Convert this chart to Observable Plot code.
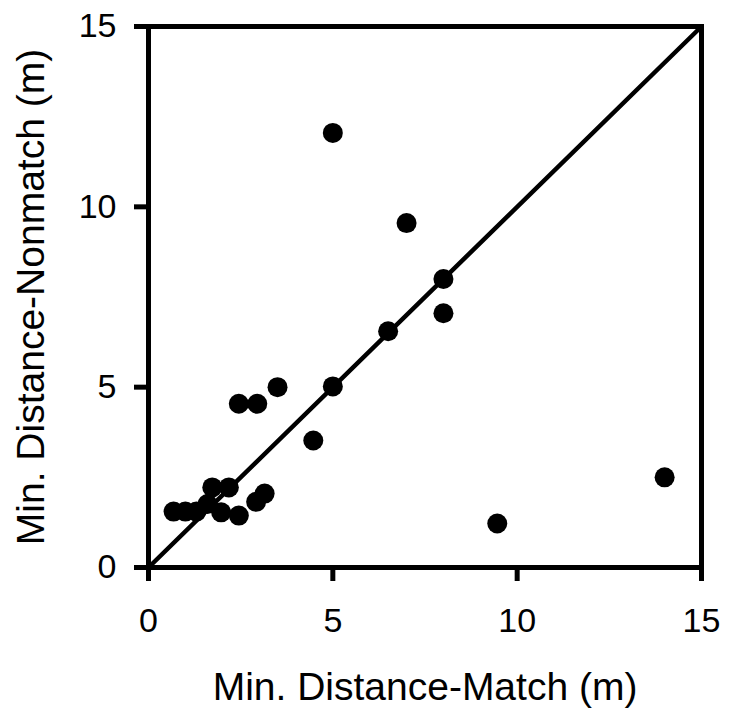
<!DOCTYPE html>
<html>
<head>
<meta charset="utf-8">
<script src="https://cdn.jsdelivr.net/npm/d3@7"></script>
<script src="https://cdn.jsdelivr.net/npm/@observablehq/plot@0.6"></script>
<style>
  html, body { margin: 0; padding: 0; background: #fff; }
</style>
</head>
<body>
<div id="chart"></div>
<script>
// Minimum distance (m) for matching vs. non-matching
const matchDist    = [5, 7, 8, 8, 6.5, 5, 3.5, 2.45, 2.95, 4.47, 14, 9.46, 1.73, 2.18, 3.15, 2.92, 2.45, 1.97, 1.6, 1.3, 1.0, 0.68];
const nonmatchDist = [12.05, 9.55, 8.0, 7.05, 6.55, 5.02, 5.0, 4.54, 4.54, 3.52, 2.5, 1.22, 2.22, 2.22, 2.05, 1.82, 1.44, 1.53, 1.76, 1.55, 1.55, 1.55];
const ticks = [0, 5, 10, 15];
const identityLine = [0, 15];
const xLabel = "Min. Distance-Match (m)";
const yLabel = "Min. Distance-Nonmatch (m)";

const points = matchDist.map((m, i) => ({match: m, nonmatch: nonmatchDist[i]}));
const diag = identityLine.map(v => ({x: v, y: v}));

const chart = Plot.plot({
  width: 731,
  height: 717,
  marginLeft: 148,
  marginRight: 30,
  marginTop: 26,
  marginBottom: 150,
  style: {fontFamily: "'Liberation Sans', Arial, sans-serif", background: "#fff", color: "#000"},
  x: {domain: [0, 15]},
  y: {domain: [0, 15]},
  marks: [
    Plot.line(diag, {x: "x", y: "y", stroke: "#000", strokeWidth: 4.5}),
    Plot.dot(points, {x: "match", y: "nonmatch", r: 10, fill: "#000", stroke: "none"}),
    Plot.frame({stroke: "#000", strokeWidth: 5}),
    Plot.axisX({ticks, tickSize: 14, tickPadding: 26, strokeWidth: 5, fontSize: 34, label: null, tickFormat: d => String(d)}),
    Plot.axisY({ticks, tickSize: 14, tickPadding: 18, strokeWidth: 5, fontSize: 34, label: null, tickFormat: d => String(d)}),
    Plot.text([xLabel], {text: d => d, frameAnchor: "bottom", textAnchor: "middle", lineAnchor: "bottom", dy: 132, fontSize: 39, fill: "#000"}),
    Plot.text([yLabel], {text: d => d, frameAnchor: "left", textAnchor: "middle", lineAnchor: "bottom", rotate: -90, dx: -105, fontSize: 39, fill: "#000"})
  ]
});
document.getElementById("chart").appendChild(chart);
</script>
</body>
</html>
